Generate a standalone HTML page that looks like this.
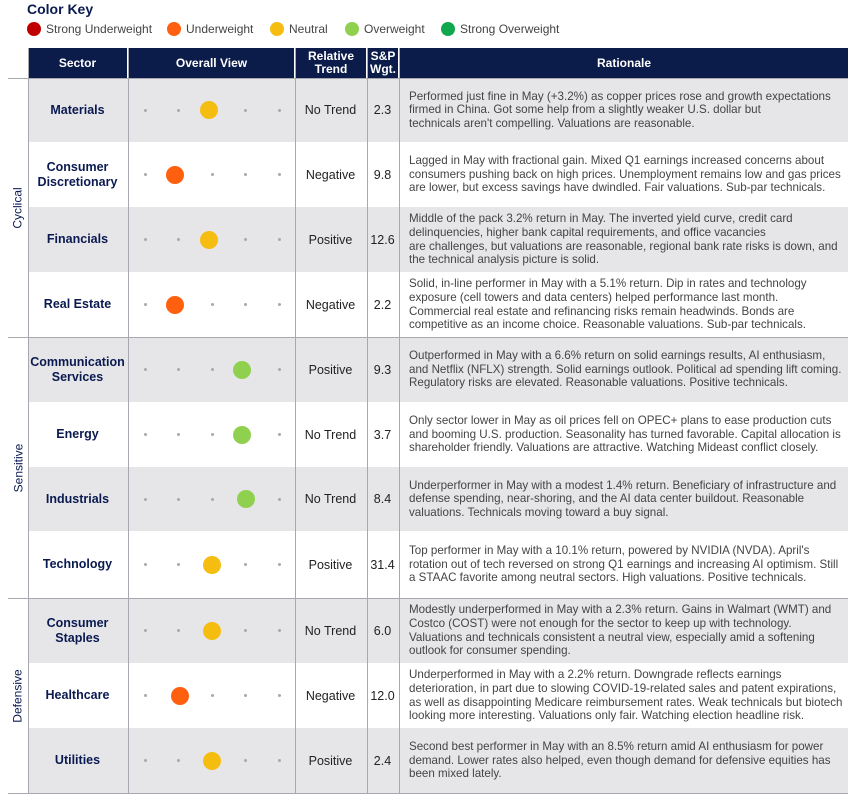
<!DOCTYPE html>
<html><head><meta charset="utf-8">
<style>
body{margin:0;width:862px;height:807px;background:#fff;font-family:"Liberation Sans",sans-serif;position:relative;overflow:hidden}
.abs{position:absolute}
.hdr{position:absolute;top:48px;height:30px;background:#0b1c4a;color:#fff;font-weight:bold;font-size:12px;display:flex;align-items:center;justify-content:center;text-align:center;line-height:13px}
.row{position:absolute;left:28px;width:820px}
.cell{position:absolute;top:0;bottom:0;display:flex;align-items:center;justify-content:center;text-align:center;font-size:12.5px}
.sec{left:0;width:99px;color:#0a1a50;font-weight:bold;line-height:15px}
.trend{left:267px;width:71px;color:#222}
.wgt{left:339px;width:31px;color:#222}
.rat{left:381px;width:440px;justify-content:flex-start;text-align:left;font-size:11.6px;line-height:13.6px;color:#444;white-space:nowrap}
.vl{position:absolute;top:48px;height:745px;width:1px;background:#a8a8b0}
.grp{position:absolute;left:8px;width:20px;display:flex;align-items:center;justify-content:center}
.grp span{transform:rotate(-90deg);font-size:12px;color:#0a1a50;white-space:nowrap}
.hl{position:absolute;left:8px;width:840px;height:1px;background:#a8a8b0}
</style></head><body>
<div class="abs" style="left:27px;top:1px;font-size:14px;font-weight:bold;color:#0a1a50">Color Key</div>
<div class="abs" style="left:27px;top:22px;height:16px;font-size:12px;color:#444;width:800px">
 <span class="abs" style="left:0;top:0;white-space:nowrap"><i style="display:inline-block;width:14px;height:14px;border-radius:50%;background:#c00000;vertical-align:-3px;margin-right:5px"></i>Strong Underweight</span>
 <span class="abs" style="left:140px;top:0;white-space:nowrap"><i style="display:inline-block;width:14px;height:14px;border-radius:50%;background:#ff6010;vertical-align:-3px;margin-right:5px"></i>Underweight</span>
 <span class="abs" style="left:243px;top:0;white-space:nowrap"><i style="display:inline-block;width:14px;height:14px;border-radius:50%;background:#f5bd10;vertical-align:-3px;margin-right:5px"></i>Neutral</span>
 <span class="abs" style="left:318px;top:0;white-space:nowrap"><i style="display:inline-block;width:14px;height:14px;border-radius:50%;background:#8fd14f;vertical-align:-3px;margin-right:5px"></i>Overweight</span>
 <span class="abs" style="left:414px;top:0;white-space:nowrap"><i style="display:inline-block;width:14px;height:14px;border-radius:50%;background:#10a84f;vertical-align:-3px;margin-right:5px"></i>Strong Overweight</span>
</div>
<div class="hdr" style="left:28px;width:99px">Sector</div>
<div class="hdr" style="left:129px;width:165px">Overall View</div>
<div class="hdr" style="left:296px;width:70px">Relative<br>Trend</div>
<div class="hdr" style="left:368px;width:30px">S&amp;P<br>Wgt.</div>
<div class="hdr" style="left:400px;width:448px">Rationale</div>
<div id="rows"></div>
<script>
const sectors=["Materials","Consumer<br>Discretionary","Financials","Real Estate","Communication<br>Services","Energy","Industrials","Technology","Consumer<br>Staples","Healthcare","Utilities"];
const views=[1.9,0.9,1.9,0.9,2.9,2.9,3.0,2.0,2.0,1.05,2.0];
const viewColors=["#f5bd10","#ff6010","#f5bd10","#ff6010","#8fd14f","#8fd14f","#8fd14f","#f5bd10","#f5bd10","#ff6010","#f5bd10"];
const trends=["No Trend","Negative","Positive","Negative","Positive","No Trend","No Trend","Positive","No Trend","Negative","Positive"];
const weights=["2.3","9.8","12.6","2.2","9.3","3.7","8.4","31.4","6.0","12.0","2.4"];
const rationales=[
"Performed just fine in May (+3.2%) as copper prices rose and growth expectations<br>firmed in China. Got some help from a slightly weaker U.S. dollar but<br>technicals aren't compelling. Valuations are reasonable.",
"Lagged in May with fractional gain. Mixed Q1 earnings increased concerns about<br>consumers pushing back on high prices. Unemployment remains low and gas prices<br>are lower, but excess savings have dwindled. Fair valuations. Sub-par technicals.",
"Middle of the pack 3.2% return in May. The inverted yield curve, credit card<br>delinquencies, higher bank capital requirements, and office vacancies<br>are challenges, but valuations are reasonable, regional bank rate risks is down, and<br>the technical analysis picture is solid.",
"Solid, in-line performer in May with a 5.1% return. Dip in rates and technology<br>exposure (cell towers and data centers) helped performance last month.<br>Commercial real estate and refinancing risks remain headwinds. Bonds are<br>competitive as an income choice. Reasonable valuations. Sub-par technicals.",
"Outperformed in May with a 6.6% return on solid earnings results, AI enthusiasm,<br>and Netflix (NFLX) strength. Solid earnings outlook. Political ad spending lift coming.<br>Regulatory risks are elevated. Reasonable valuations. Positive technicals.",
"Only sector lower in May as oil prices fell on OPEC+ plans to ease production cuts<br>and booming U.S. production. Seasonality has turned favorable. Capital allocation is<br>shareholder friendly. Valuations are attractive. Watching Mideast conflict closely.",
"Underperformer in May with a modest 1.4% return. Beneficiary of infrastructure and<br>defense spending, near-shoring, and the AI data center buildout. Reasonable<br>valuations. Technicals moving toward a buy signal.",
"Top performer in May with a 10.1% return, powered by NVIDIA (NVDA). April's<br>rotation out of tech reversed on strong Q1 earnings and increasing AI optimism. Still<br>a STAAC favorite among neutral sectors. High valuations. Positive technicals.",
"Modestly underperformed in May with a 2.3% return. Gains in Walmart (WMT) and<br>Costco (COST) were not enough for the sector to keep up with technology.<br>Valuations and technicals consistent a neutral view, especially amid a softening<br>outlook for consumer spending.",
"Underperformed in May with a 2.2% return. Downgrade reflects earnings<br>deterioration, in part due to slowing COVID-19-related sales and patent expirations,<br>as well as disappointing Medicare reimbursement rates. Weak technicals but biotech<br>looking more interesting. Valuations only fair. Watching election headline risk.",
"Second best performer in May with an 8.5% return amid AI enthusiasm for power<br>demand. Lower rates also helped, even though demand for defensive equities has<br>been mixed lately."];
const rowTops=[78,142,207,272,337,402,467,531,598,663,728,793];
const groups=["Cyclical","Sensitive","Defensive"];
const groupRows=[[0,4],[4,8],[8,11]];
const dotX=i=>145+i*33.5;
const root=document.getElementById('rows');
let html='';
for(let i=0;i<sectors.length;i++){
 const t=rowTops[i],h=rowTops[i+1]-t,bg=i%2===0?'#e6e6e9':'#fff';
 let dots='';
 for(let k=0;k<5;k++) dots+=`<div style="position:absolute;left:${dotX(k)-28-1.5}px;top:${h/2-1.5}px;width:3px;height:3px;border-radius:50%;background:#a8a8b0"></div>`;
 dots+=`<div style="position:absolute;left:${dotX(views[i])-28-9}px;top:${h/2-9}px;width:18px;height:18px;border-radius:50%;background:${viewColors[i]}"></div>`;
 html+=`<div class="row" style="top:${t}px;height:${h}px;background:${bg}">
 <div class="cell sec">${sectors[i]}</div>
 ${dots}
 <div class="cell trend">${trends[i]}</div>
 <div class="cell wgt">${weights[i]}</div>
 <div class="cell rat">${rationales[i]}</div></div>`;
}
[28,128,295,367,399].forEach(x=>{html+=`<div class="vl" style="left:${x}px"></div>`;});
groupRows.forEach((g,j)=>{
 const t=rowTops[g[0]],b=rowTops[g[1]];
 html+=`<div class="grp" style="top:${t}px;height:${b-t}px"><span>${groups[j]}</span></div>`;
 html+=`<div class="hl" style="top:${t}px"></div>`;
});
html+=`<div class="hl" style="top:793px"></div>`;
root.innerHTML=html;
</script>
</body></html>
